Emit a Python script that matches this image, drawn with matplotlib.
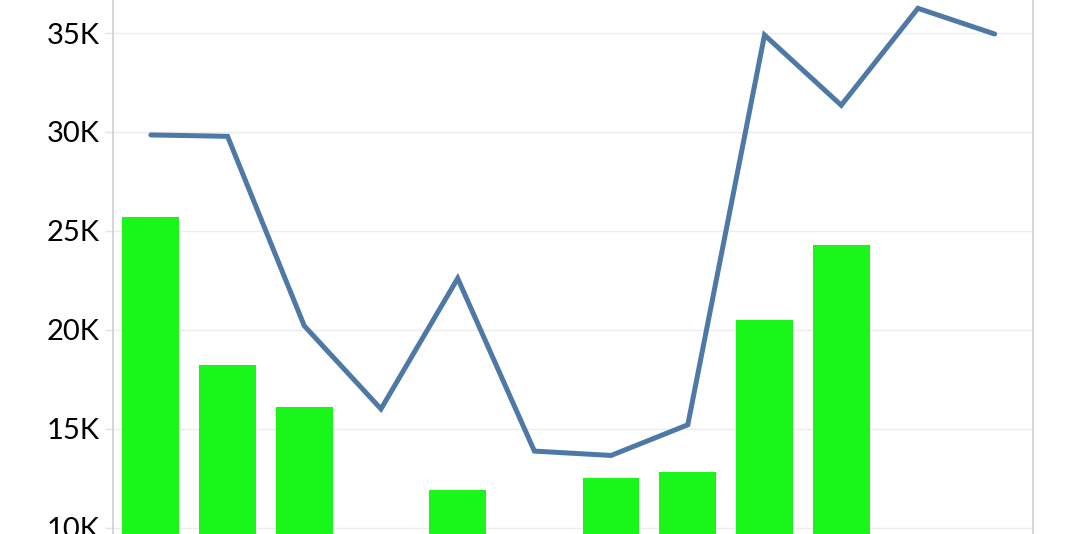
import numpy as np
import matplotlib
matplotlib.use("Agg")
import matplotlib.pyplot as plt
from matplotlib.ticker import FuncFormatter

# --- data ---
categories = list(range(12))
line_values = [29850, 29780, 20200, 16000, 22600, 13870, 13650, 15200,
               34900, 31350, 36250, 34950]
bar_values = [25700, 18200, 16100, None, 11900, None, 12500, 12800,
              20500, 24300, None, None]
y_ticks = [10000, 15000, 20000, 25000, 30000, 35000]

plt.rcParams['font.family'] = ['Lato', 'DejaVu Sans']

fig = plt.figure(figsize=(10.68, 5.34), dpi=100)
ax = fig.add_axes([112.5 / 1068, 0, 920.5 / 1068, 1])

# bars only where there is a value
bx = [c for c, v in zip(categories, bar_values) if v is not None]
bh = [v for v in bar_values if v is not None]
ax.bar(bx, bh, width=0.74, color='#1af51a', zorder=2)

ax.plot(categories, line_values, color='#4e79a7', linewidth=3.6,
        solid_capstyle='round', solid_joinstyle='miter', zorder=3)

ax.set_xlim(-0.5, 11.5)
ax.set_ylim(9680, 36670)
ax.set_yticks(y_ticks)
ax.yaxis.set_major_formatter(FuncFormatter(lambda v, p: f"{int(v / 1000)}K"))
ax.set_xticks([])

ax.grid(axis='y', color='#ececec', linewidth=1, zorder=0)
ax.set_axisbelow(True)
ax.tick_params(axis='y', length=6, width=1, color='#e4e4e4',
               labelsize=21, labelcolor='black', pad=3)

for side in ['top', 'bottom']:
    ax.spines[side].set_visible(False)
for side in ['left', 'right']:
    ax.spines[side].set_color('#d0d0d0')
    ax.spines[side].set_linewidth(1.2)

fig.savefig('out.png', dpi=100)
